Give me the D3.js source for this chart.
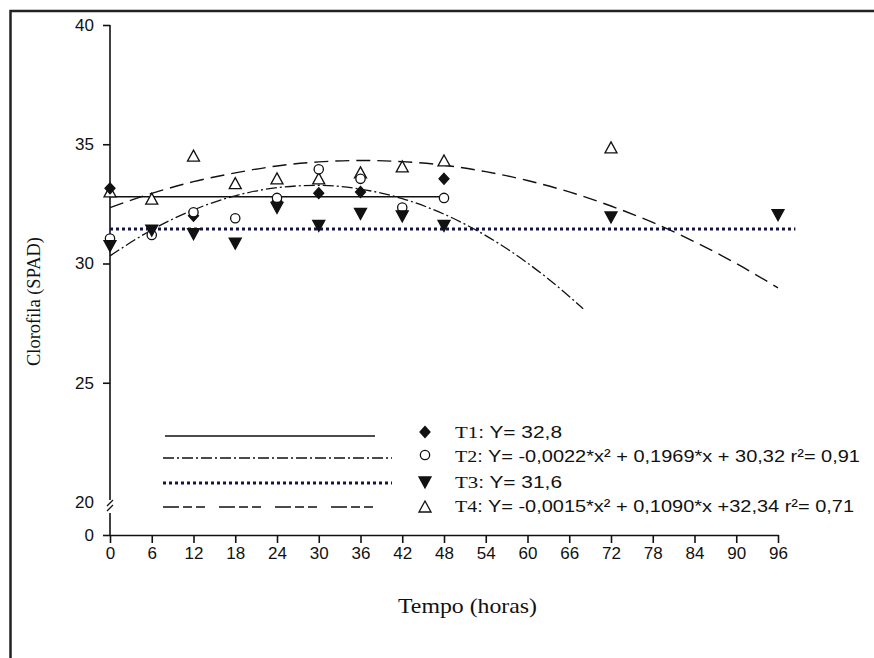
<!DOCTYPE html>
<html>
<head>
<meta charset="utf-8">
<script src="https://cdn.jsdelivr.net/npm/d3@7/dist/d3.min.js"></script>
<style>
  html, body { margin: 0; padding: 0; background: #fff; }
  #chart { width: 874px; height: 658px; }
</style>
</head>
<body>
<div id="chart"></div>
<script>
// ---- data ----
const hourTicks = [0, 6, 12, 18, 24, 30, 36, 42, 48, 54, 60, 66, 72, 78, 84, 90, 96];
const spadTicks = [0, 20, 25, 30, 35, 40];

// observed points
const t1Hours = [0, 12, 24, 30, 36, 48];
const t1Values = [33.15, 32.0, 32.6, 32.95, 33.0, 33.55];

const t2Hours = [0, 6, 12, 18, 24, 30, 36, 42, 48];
const t2Values = [31.05, 31.2, 32.15, 31.9, 32.75, 33.95, 33.55, 32.35, 32.75];

const t3Hours = [0, 6, 12, 18, 24, 30, 36, 42, 48, 72, 96];
const t3Values = [30.75, 31.4, 31.25, 30.85, 32.35, 31.6, 32.1, 32.0, 31.6, 31.95, 32.05];

const t4Hours = [0, 6, 12, 18, 24, 30, 36, 42, 48, 72];
const t4Values = [33.0, 32.7, 34.5, 33.35, 33.55, 33.55, 33.8, 34.05, 34.3, 34.85];

// fitted lines as drawn
const t1LineHours = [0, 48];
const t1LineValues = [32.8, 32.8];
const t3LineHours = [0, 98.5];
const t3LineValues = [31.45, 31.45];

const t2CurveHours = [0, 6, 12, 18, 24, 30, 36, 42, 48, 54, 60, 66, 68];
const t2CurveValues = [30.32, 31.41, 32.25, 32.84, 33.18, 33.28, 33.12, 32.72, 32.07, 31.17, 30.02, 28.62, 28.1];

const t4CurveHours = [0, 6, 12, 18, 24, 30, 36, 42, 48, 54, 60, 66, 72, 78, 84, 90, 96];
const t4CurveValues = [32.34, 32.94, 33.43, 33.8, 34.09, 34.26, 34.32, 34.27, 34.12, 33.85, 33.48, 33.0, 32.41, 31.72, 30.91, 30.0, 28.98];

const legendLabels = [
  { id: "T1", eq: ": Y= 32,8" },
  { id: "T2", eq: ": Y= -0,0022*x² + 0,1969*x + 30,32 r²= 0,91" },
  { id: "T3", eq: ": Y= 31,6" },
  { id: "T4", eq: ": Y= -0,0015*x² + 0,1090*x +32,34 r²= 0,71" },
];

const SANS = "Arial, 'Liberation Sans', sans-serif";
const SERIF = "'Times New Roman', 'Liberation Serif', serif";
const INK = "#111";

const container = d3.select("#chart");
const width = 874;
const height = 658;

const svg = container
  .append("svg")
  .attr("width", width)
  .attr("height", height);

// outer frame (cut off at right and bottom)
svg
  .append("rect")
  .attr("x", 10.5)
  .attr("y", 11)
  .attr("width", 900)
  .attr("height", 700)
  .attr("fill", "none")
  .attr("stroke", "#222")
  .attr("stroke-width", 2.5);

// ---- scales ----
const x = d3.scaleLinear().domain([0, 96]).range([110, 778]);
// broken axis: 0-20 compressed, 20-40 full
const y = d3.scaleLinear().domain([0, 20, 40]).range([535, 502, 25]);

const zip = (xs, ys) => xs.map((h, i) => ({ h, v: ys[i] }));

// ---- axes ----
const xAxis = svg
  .append("g")
  .attr("transform", `translate(0, ${y(0)})`)
  .call(d3.axisBottom(x).tickValues(hourTicks).tickSize(8).tickSizeOuter(0));
xAxis.select(".domain").attr("stroke", INK).attr("stroke-width", 1.6);
xAxis.selectAll(".tick line").attr("stroke", INK).attr("stroke-width", 1.6);
xAxis
  .selectAll(".tick text")
  .attr("y", 24)
  .attr("dy", 0)
  .attr("fill", INK)
  .attr("font-family", SANS)
  .attr("font-size", "17px");

const yAxis = svg
  .append("g")
  .attr("transform", `translate(${x(0)}, 0)`)
  .call(d3.axisLeft(y).tickValues(spadTicks).tickSize(7).tickSizeOuter(0));
yAxis.select(".domain").remove();
yAxis.selectAll(".tick line").attr("stroke", INK).attr("stroke-width", 1.6);
yAxis.selectAll(".tick").filter((d) => d === 20).select("line").remove();
yAxis
  .selectAll(".tick text")
  .attr("x", -16)
  .attr("fill", INK)
  .attr("font-family", SANS)
  .attr("font-size", "17px");

// y axis line with break between 0 and 20
svg
  .append("line")
  .attr("x1", x(0)).attr("x2", x(0))
  .attr("y1", y(40)).attr("y2", y(20) - 2)
  .attr("stroke", INK).attr("stroke-width", 1.6);
svg
  .append("line")
  .attr("x1", x(0)).attr("x2", x(0))
  .attr("y1", y(20) + 11).attr("y2", y(0))
  .attr("stroke", INK).attr("stroke-width", 1.6);
[0, 5].forEach((off) => {
  svg
    .append("line")
    .attr("x1", x(0) - 3).attr("x2", x(0) + 3)
    .attr("y1", y(20) + 4 + off).attr("y2", y(20) - 2 + off)
    .attr("stroke", INK).attr("stroke-width", 1.3);
});

// axis titles
svg
  .append("text")
  .attr("x", 398)
  .attr("y", 613)
  .attr("font-family", SERIF)
  .attr("font-size", "21px")
  .attr("fill", INK)
  .attr("textLength", 139)
  .attr("lengthAdjust", "spacingAndGlyphs")
  .text("Tempo (horas)");

svg
  .append("text")
  .attr("transform", "translate(40, 366) rotate(-90)")
  .attr("font-family", SERIF)
  .attr("font-size", "19px")
  .attr("fill", INK)
  .attr("textLength", 129)
  .attr("lengthAdjust", "spacingAndGlyphs")
  .text("Clorofila (SPAD)");

// ---- line styles ----
const styles = {
  T1: { dash: null, width: 1.4, color: INK },
  T2: { dash: "11,3,2,3", width: 1.3, color: INK },
  T3: { dash: "3,3", width: 3, color: "#14144a" },
  T4: { dash: "14,7", width: 1.4, color: INK },
};

const line = d3
  .line()
  .x((d) => x(d.h))
  .y((d) => y(d.v))
  .curve(d3.curveMonotoneX);

const fits = [
  { key: "T1", data: zip(t1LineHours, t1LineValues) },
  { key: "T2", data: zip(t2CurveHours, t2CurveValues) },
  { key: "T3", data: zip(t3LineHours, t3LineValues) },
  { key: "T4", data: zip(t4CurveHours, t4CurveValues) },
];

svg
  .append("g")
  .selectAll("path")
  .data(fits)
  .enter()
  .append("path")
  .attr("d", (d) => line(d.data))
  .attr("fill", "none")
  .attr("stroke", (d) => styles[d.key].color)
  .attr("stroke-width", (d) => styles[d.key].width)
  .attr("stroke-dasharray", (d) => styles[d.key].dash);

// ---- markers ----
const shapes = {
  T1: { path: "M0,-5.5L5,0L0,5.5L-5,0Z", fill: INK },
  T2: { path: d3.symbol().type(d3.symbolCircle).size(68)(), fill: "#fff" },
  T3: { path: "M-6,-5L6,-5L0,6Z", fill: INK },
  T4: { path: "M0,-6L6,5L-6,5Z", fill: "#fff" },
};

const pointSets = [
  { key: "T4", data: zip(t4Hours, t4Values) },
  { key: "T1", data: zip(t1Hours, t1Values) },
  { key: "T2", data: zip(t2Hours, t2Values) },
  { key: "T3", data: zip(t3Hours, t3Values) },
];

pointSets.forEach((set) => {
  svg
    .append("g")
    .selectAll("path")
    .data(set.data)
    .enter()
    .append("path")
    .attr("transform", (d) => `translate(${x(d.h)}, ${y(d.v)})`)
    .attr("d", shapes[set.key].path)
    .attr("fill", shapes[set.key].fill)
    .attr("stroke", INK)
    .attr("stroke-width", 1.3);
});

// ---- legend ----
const legendRows = [
  { key: "T1", lineY: 436, x1: 165, x2: 375, markY: 432, textY: 438, textLen: 107 },
  { key: "T2", lineY: 458, x1: 163, x2: 392, markY: 455, textY: 462, textLen: 405 },
  { key: "T3", lineY: 483, x1: 163, x2: 392, markY: 482, textY: 488, textLen: 107 },
  { key: "T4", lineY: 507, x1: 163, x2: 383, markY: 507, textY: 512, textLen: 399 },
];

const legend = svg.append("g");

legend
  .selectAll("g")
  .data(legendRows)
  .enter()
  .append("g")
  .each(function (d, i) {
    const g = d3.select(this);
    const st = styles[d.key];

    g.append("line")
      .attr("x1", d.x1)
      .attr("x2", d.x2)
      .attr("y1", d.lineY)
      .attr("y2", d.lineY)
      .attr("stroke", st.color)
      .attr("stroke-width", st.width)
      .attr("stroke-dasharray", d.key === "T4" ? "16,4,9,4,9,14" : st.dash);

    g.append("path")
      .attr("transform", `translate(425, ${d.markY})`)
      .attr("d", shapes[d.key].path)
      .attr("fill", shapes[d.key].fill)
      .attr("stroke", INK)
      .attr("stroke-width", 1.3);

    const t = g
      .append("text")
      .attr("x", 455)
      .attr("y", d.textY)
      .attr("font-size", "17px")
      .attr("fill", INK)
      .attr("textLength", d.textLen)
      .attr("lengthAdjust", "spacingAndGlyphs");
    t.append("tspan").attr("font-family", SERIF).text(legendLabels[i].id);
    t.append("tspan").attr("font-family", SANS).text(legendLabels[i].eq);
  });
</script>
</body>
</html>
